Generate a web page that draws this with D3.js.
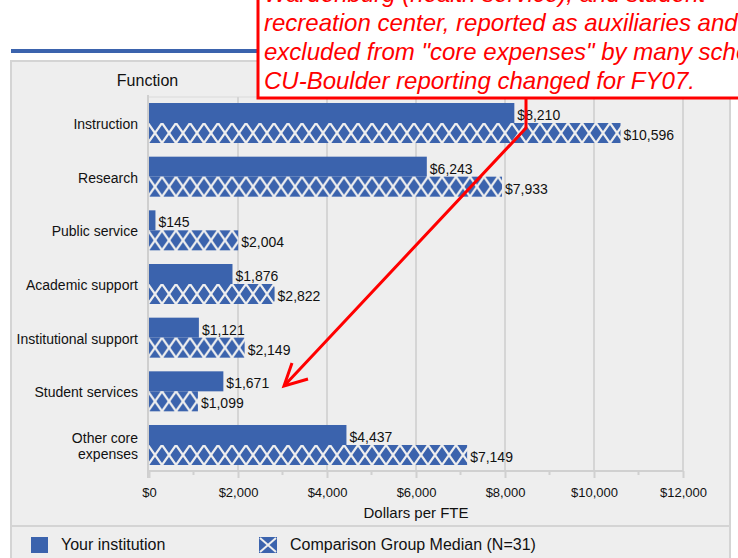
<!DOCTYPE html>
<html>
<head>
<meta charset="utf-8">
<script src="https://cdn.jsdelivr.net/npm/d3@7"></script>
<style>
  html, body { margin: 0; padding: 0; background: #ffffff; }
  svg { display: block; font-family: "Liberation Sans", Arial, sans-serif; }
</style>
</head>
<body>
<svg id="chart" width="738" height="558"></svg>
<script>
// ---- data ----
const categories = ["Instruction", "Research", "Public service", "Academic support",
  "Institutional support", "Student services", "Other core expenses"];
const yourInstitution = [8210, 6243, 145, 1876, 1121, 1671, 4437];
const comparisonMedian = [10596, 7933, 2004, 2822, 2149, 1099, 7149];
const seriesNames = ["Your institution", "Comparison Group Median (N=31)"];
const xTicks = [0, 2000, 4000, 6000, 8000, 10000, 12000];
const minorTicks = [1000, 3000, 5000, 7000, 9000, 11000];
const annotationLines = [
  "Wardenburg (health service), and student",
  "recreation center, reported as auxiliaries and",
  "excluded from \"core expenses\" by many schools.",
  "CU-Boulder reporting changed for FY07."
];

const BLUE = "#3b63ad";
const BG = "#eeeeee";
const svg = d3.select("#chart");
const defs = svg.append("defs");

// ---- frame ----
svg.append("rect").attr("x", 11).attr("y", 49).attr("width", 727).attr("height", 4).attr("fill", BLUE);
svg.append("rect").attr("x", 11).attr("y", 61).attr("width", 719).attr("height", 520)
  .attr("fill", BG).attr("stroke", "#d4d4d4").attr("stroke-width", 2);
svg.append("line").attr("x1", 11).attr("x2", 730).attr("y1", 526).attr("y2", 526)
  .attr("stroke", "#d4d4d4").attr("stroke-width", 2);

svg.append("text").attr("x", 147.5).attr("y", 86).attr("text-anchor", "middle")
  .attr("font-size", 16).attr("fill", "#111").text("Function");

// ---- scales ----
const x = d3.scaleLinear().domain([0, 12000]).range([149, 683]);
const y = d3.scaleBand().domain(categories).range([97, 471]).paddingInner(0.2547).paddingOuter(0.112);
const ySub = d3.scaleBand().domain([0, 1]).range([0, y.bandwidth()]);

const plotTop = 97, plotBottom = 471;

// plot top border
svg.append("line").attr("x1", 148).attr("x2", 683).attr("y1", plotTop).attr("y2", plotTop)
  .attr("stroke", "#dadada").attr("stroke-width", 1);

// gridlines
svg.append("g").selectAll("line").data(xTicks.filter(d => d > 0)).join("line")
  .attr("x1", d => x(d)).attr("x2", d => x(d))
  .attr("y1", plotTop).attr("y2", plotBottom)
  .attr("stroke", "#d5d5d5").attr("stroke-width", 2);

// ---- patterns ----
categories.forEach((c, i) => {
  const h = ySub.bandwidth();
  const p = defs.append("pattern").attr("id", "hatch" + i)
    .attr("patternUnits", "userSpaceOnUse")
    .attr("x", x(0) - 1).attr("y", y(c) + ySub(1))
    .attr("width", 14).attr("height", h);
  p.append("rect").attr("width", 14).attr("height", h).attr("fill", BLUE);
  p.append("path").attr("d", `M-7,${-h/2}L21,${h*1.5}M21,${-h/2}L-7,${h*1.5}`)
    .attr("stroke", BG).attr("stroke-width", 2.2);
});

// ---- bars ----
const bars = svg.append("g");
bars.selectAll("rect.inst").data(yourInstitution).join("rect").attr("class", "inst")
  .attr("x", x(0)).attr("y", (d, i) => y(categories[i]) + ySub(0))
  .attr("width", d => x(d) - x(0)).attr("height", ySub.bandwidth())
  .attr("fill", BLUE);
bars.selectAll("rect.med").data(comparisonMedian).join("rect").attr("class", "med")
  .attr("x", x(0)).attr("y", (d, i) => y(categories[i]) + ySub(1))
  .attr("width", d => x(d) - x(0)).attr("height", ySub.bandwidth())
  .attr("fill", (d, i) => `url(#hatch${i})`);

// value labels
const fmt = d3.format("$,");
const labels = svg.append("g").attr("font-size", 14).attr("fill", "#111");
[yourInstitution, comparisonMedian].forEach((series, s) => {
  labels.selectAll("text.s" + s).data(series).join("text").attr("class", "s" + s)
    .attr("x", d => x(d) + 3)
    .attr("y", (d, i) => y(categories[i]) + ySub(s) + ySub.bandwidth() / 2 + 2)
    .attr("dy", "0.35em")
    .text(d => fmt(d));
});

// ---- category axis labels ----
const catG = svg.append("g").attr("font-size", 14).attr("fill", "#111").attr("text-anchor", "end");
categories.forEach(c => {
  const t = catG.append("text").attr("x", 138);
  const words = c.split(" ");
  let lines = [], cur = [];
  const probe = catG.append("text").attr("visibility", "hidden");
  words.forEach(w => {
    const test = cur.concat([w]).join(" ");
    probe.text(test);
    if (probe.node().getComputedTextLength() > 125 && cur.length) { lines.push(cur.join(" ")); cur = [w]; }
    else cur.push(w);
  });
  lines.push(cur.join(" "));
  probe.remove();
  const cy = y(c) + y.bandwidth() / 2 + 1;
  const lh = 16;
  lines.forEach((ln, k) => {
    t.append("tspan").attr("x", 138)
      .attr("y", cy + (k - (lines.length - 1) / 2) * lh)
      .attr("dy", "0.35em").text(ln);
  });
});

// ---- x axis ----
svg.append("line").attr("x1", 148).attr("x2", 683).attr("y1", plotBottom).attr("y2", plotBottom)
  .attr("stroke", "#d0d0d0").attr("stroke-width", 2);
svg.append("line").attr("x1", 148).attr("x2", 148).attr("y1", 95).attr("y2", 478)
  .attr("stroke", "#cfcfcf").attr("stroke-width", 2);
svg.append("g").selectAll("line").data(minorTicks).join("line")
  .attr("x1", d => x(d)).attr("x2", d => x(d)).attr("y1", plotBottom).attr("y2", plotBottom + 4)
  .attr("stroke", "#d0d0d0").attr("stroke-width", 2);

const xAxis = d3.axisBottom(x).tickValues(xTicks).tickFormat(fmt).tickSize(7).tickPadding(10);
const axG = svg.append("g").attr("transform", `translate(0,${plotBottom})`).call(xAxis);
axG.select(".domain").remove();
axG.selectAll(".tick line").attr("stroke", "#d0d0d0").attr("stroke-width", 2);
axG.selectAll(".tick text").attr("font-size", 13).attr("fill", "#111")
  .attr("font-family", "'Liberation Sans', Arial, sans-serif");

svg.append("text").attr("x", (x(0) + x(12000)) / 2).attr("y", 518).attr("text-anchor", "middle")
  .attr("font-size", 15).attr("fill", "#111").text("Dollars per FTE");

// ---- legend ----
svg.append("rect").attr("x", 31).attr("y", 537).attr("width", 17).attr("height", 16).attr("fill", BLUE);
svg.append("text").attr("x", 61).attr("y", 550).attr("font-size", 16).attr("fill", "#111").text(seriesNames[0]);
svg.append("rect").attr("x", 259).attr("y", 537).attr("width", 18).attr("height", 16).attr("fill", BLUE);
svg.append("path").attr("d", "M260,538L276,552M276,538L260,552").attr("stroke", BG).attr("stroke-width", 2);
svg.append("text").attr("x", 290).attr("y", 550).attr("font-size", 16).attr("fill", "#111").text(seriesNames[1]);

// ---- annotation ----
const RED = "#ff0000";
svg.append("polyline").attr("points", "526,98 526,128 284,386")
  .attr("fill", "none").attr("stroke", RED).attr("stroke-width", 3).attr("stroke-linejoin", "miter");
svg.append("polyline").attr("points", "292,363 284,386 308,379")
  .attr("fill", "none").attr("stroke", RED).attr("stroke-width", 3);
svg.append("rect").attr("x", 258).attr("y", -10).attr("width", 500).attr("height", 108)
  .attr("fill", "#ffffff").attr("stroke", RED).attr("stroke-width", 3);
const ann = svg.append("g").attr("font-size", 24).attr("font-style", "italic").attr("fill", RED);
annotationLines.forEach((ln, k) => {
  ann.append("text").attr("x", 264).attr("y", 88.5 - (annotationLines.length - 1 - k) * 28.8).text(ln);
});
</script>
</body>
</html>
